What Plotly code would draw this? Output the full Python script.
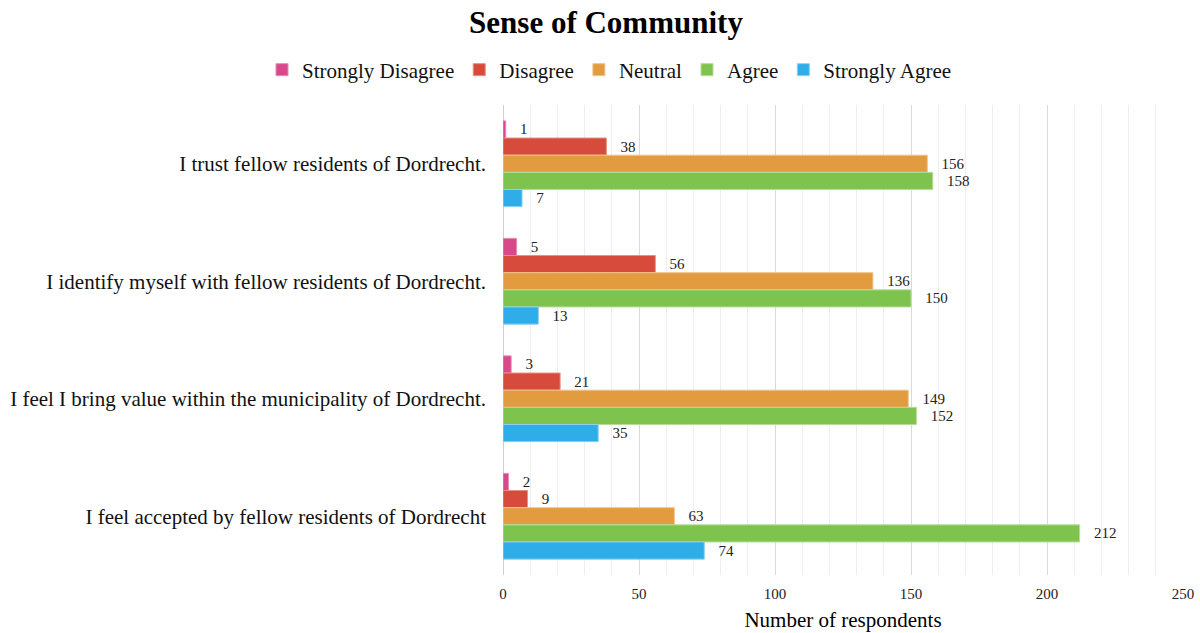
import plotly.graph_objects as go

# Survey statements, listed top to bottom
statements = [
    "I trust fellow residents of Dordrecht.",
    "I identify myself with fellow residents of Dordrecht.",
    "I feel I bring value within the municipality of Dordrecht.",
    "I feel accepted by fellow residents of Dordrecht",
]

series_names = ["Strongly Disagree", "Disagree", "Neutral", "Agree", "Strongly Agree"]

strongly_disagree = [1, 5, 3, 2]
disagree = [38, 56, 21, 9]
neutral = [156, 136, 149, 63]
agree = [158, 150, 152, 212]
strongly_agree = [7, 13, 35, 74]

series_values = [strongly_disagree, disagree, neutral, agree, strongly_agree]
colors = ["#D9488A", "#D64B3B", "#E39B3F", "#7FC34F", "#2EADE9"]
edge_colors = ["#E98AB5", "#E8907F", "#F0C48D", "#B5DD99", "#8ED0F2"]

FONT = "Liberation Serif, Times New Roman, serif"

fig = go.Figure()
for name, vals, col, edge in zip(series_names, series_values, colors, edge_colors):
    fig.add_trace(go.Bar(
        y=statements,
        x=vals,
        name=name,
        orientation="h",
        marker=dict(color=col, line=dict(color=edge, width=1)),
        text=vals,
        texttemplate="   %{x}",
        textposition="outside",
        textfont=dict(family=FONT, size=15, color="#222222"),
        cliponaxis=False,
        hoverinfo="x+name",
    ))

fig.update_layout(
    width=1200,
    height=633,
    barmode="group",
    bargap=0.27,
    bargroupgap=0,
    plot_bgcolor="white",
    paper_bgcolor="white",
    font=dict(family=FONT, color="#111111"),
    margin=dict(l=503, r=17, t=105, b=58, autoexpand=False),
    title=dict(
        text="<b>Sense of Community</b>",
        x=606 / 1200, xanchor="center", xref="container",
        y=1 - 22 / 633, yanchor="middle",
        font=dict(family=FONT, size=31, color="#000000"),
    ),
    legend=dict(
        orientation="h",
        x=(262 - 503) / 680, xanchor="left", xref="paper",
        y=1 + (105 - 70) / 470, yanchor="middle", yref="paper",
        font=dict(family=FONT, size=21, color="#111111"),
        itemwidth=30,
        traceorder="normal",
        itemclick=False,
    ),
    xaxis=dict(
        range=[0, 250],
        dtick=50,
        showgrid=True,
        gridcolor="#D9D9D9",
        gridwidth=1,
        minor=dict(dtick=10, showgrid=True, gridcolor="#EEEEEE", gridwidth=1),
        zeroline=True,
        zerolinecolor="#D0D0D0",
        zerolinewidth=1,
        showline=False,
        ticks="",
        ticklabelstandoff=8,
        tickfont=dict(family=FONT, size=15, color="#222222"),
        title=dict(text="Number of respondents", font=dict(family=FONT, size=21, color="#000000"), standoff=11),
        fixedrange=True,
    ),
    yaxis=dict(
        categoryorder="array",
        categoryarray=statements,
        autorange="reversed",
        showgrid=False,
        ticks="",
        ticklabelstandoff=16,
        tickfont=dict(family=FONT, size=21, color="#111111"),
        fixedrange=True,
    ),
)

fig.write_html("out.html")
